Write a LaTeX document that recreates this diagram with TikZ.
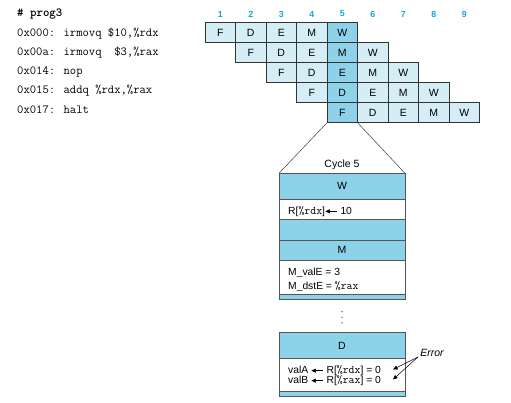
\documentclass[tikz,border=0pt]{standalone}
\usepackage{fontspec}
\setmainfont{Liberation Sans}
\usetikzlibrary{arrows.meta}
\definecolor{lightcell}{HTML}{D5EDF4}
\definecolor{darkcell}{HTML}{8DD2E8}
\definecolor{bandblue}{HTML}{8CD3EA}
\definecolor{numcyan}{HTML}{12A4DA}
\definecolor{linegray}{HTML}{555555}
\newcommand{\myarr}{\tikz[baseline=-0.6ex]\draw[{Triangle[length=4.5pt,width=4pt]}-,line width=0.6pt] (0,0)--(12pt,0);}
\newcommand{\mt}[1]{{\ttfamily\fontsize{11.5}{12}\selectfont #1}}
\begin{document}
\begin{tikzpicture}[x=1pt,y=-1pt,
  cell/.style={draw=black!80,line width=0.6pt,minimum width=30.5pt,minimum height=20pt,inner sep=0pt,outer sep=0pt,font=\fontsize{10.5}{12}\selectfont},
  band/.style={draw=linegray,line width=0.6pt,minimum width=126pt,inner sep=0pt,outer sep=0pt,font=\fontsize{10.5}{12}\selectfont},
  code/.style={anchor=west,inner sep=0pt,font=\ttfamily\fontsize{12.3}{13}\selectfont},
  num/.style={text=numcyan,font=\bfseries\fontsize{8.8}{10}\selectfont,inner sep=0pt},
  boxtext/.style={anchor=west,inner sep=0pt,font=\fontsize{10.3}{12}\selectfont}
]
\useasboundingbox (0,0) rectangle (511,403);
% code listing
\node[code,font=\ttfamily\bfseries\fontsize{12.3}{13}\selectfont] (title) at (17,14) {\# prog3};
\node[code] (l1) at (17,33.5) {0x000: irmovq \$10,\%rdx};
\node[code] (l2) at (17,53) {0x00a: irmovq\ \ \$3,\%rax};
\node[code] (l3) at (17,72) {0x014: nop};
\node[code] (l4) at (17,91) {0x015: addq \%rdx,\%rax};
\node[code] (l5) at (17,110) {0x017: halt};
% cycle numbers
\foreach \k in {1,...,9} {
  \node[num] (n\k) at ({205+30.5*(\k-0.5)},14) {\k};
}
% pipeline cells
\foreach \i in {0,...,4} {
  \foreach \s/\lab in {0/F,1/D,2/E,3/M,4/W} {
    \pgfmathtruncatemacro\c{\i+\s}
    \ifnum\c=4 \def\fc{darkcell}\else\def\fc{lightcell}\fi
    \node[cell,fill=\fc] (cell-\i-\c) at ({205+30.5*(\c+0.5)},{32.7+20*\i}) {\lab};
  }
}
% cycle 5 box
\node[font=\fontsize{10.5}{12}\selectfont,inner sep=0pt] (cyc) at (342,165) {Cycle 5};
\node[band,fill=bandblue,minimum height=26pt] (wh) at (342,186.3) {W};
\node[band,fill=white,minimum height=20pt] (w1) at (342,209.3) {};
\node[band,fill=bandblue,minimum height=20.7pt] (b1) at (342,229.65) {};
\node[band,fill=bandblue,minimum height=20pt] (mh) at (342,250) {M};
\node[band,fill=white,minimum height=34.5pt] (m1) at (342,277.25) {};
\node[band,fill=bandblue,minimum height=4.5pt] (b2) at (342,296.75) {};
\node[band,fill=bandblue,minimum height=25.6pt] (dh) at (342,345.5) {D};
\node[band,fill=white,minimum height=32.7pt] (d1) at (342,374.65) {};
\node[band,fill=bandblue,minimum height=5.7pt] (b3) at (342,393.85) {};
\draw[linegray,line width=0.6pt] (cell-4-4.south west) -- (wh.north west);
\draw[linegray,line width=0.6pt] (cell-4-4.south east) -- (wh.north east);
% texts
\node[boxtext] (t1) at (288,211.7) {R[\mt{\%rdx}]\myarr\ 10};
\node[boxtext] (t2) at (288,272.7) {M\_valE = 3};
\node[boxtext] (t3) at (288,286.7) {M\_dstE = \mt{\%rax}};
\node[boxtext] (t4) at (288,371) {valA \myarr\ R[\mt{\%rdx}] = 0};
\node[boxtext] (t5) at (288,381) {valB \myarr\ R[\mt{\%rax}] = 0};
% dots
\foreach \yy in {311.7,317.2,322.8} \fill[black!80] (342,\yy) circle (0.7pt);
% error
\node[inner sep=0pt,font=\itshape\fontsize{10.5}{12}\selectfont] (err) at (432,353) {Error};
\coordinate (es) at (418,357);
\coordinate (ea) at (393,369.5);
\coordinate (eb) at (393,379.5);
\draw[line width=0.5pt,-{Triangle[length=4.5pt,width=3.8pt]}] (es) -- (ea);
\draw[line width=0.5pt,-{Triangle[length=4.5pt,width=3.8pt]}] (es) -- (eb);
\end{tikzpicture}
\end{document}
